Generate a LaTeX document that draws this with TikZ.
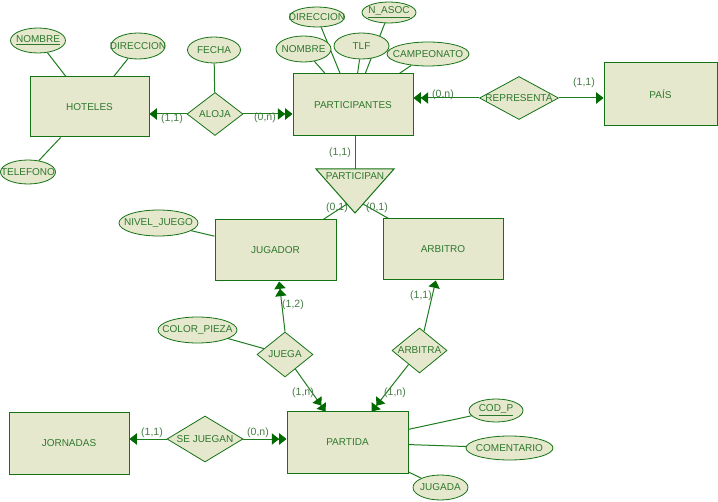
\documentclass[tikz,border=0pt]{standalone}
\usepackage{fontspec}
\setmainfont{Liberation Sans}
\usetikzlibrary{shapes.geometric,arrows.meta,calc}
\definecolor{fillc}{RGB}{230,232,206}
\definecolor{borderc}{RGB}{20,115,20}
\definecolor{linec}{RGB}{30,125,30}
\definecolor{arrowc}{RGB}{0,105,0}
\definecolor{textc}{RGB}{45,120,45}
\definecolor{cardc}{RGB}{70,125,70}
\pgfdeclarelayer{back}
\pgfdeclarelayer{bg}
\pgfsetlayers{back,bg,main}
\newcommand{\mb}[1]{\makebox[0pt]{#1}}
\tikzset{
  sz/.style 2 args={minimum width=#1*0.75pt, minimum height=#2*0.75pt},
  ent/.style={draw=borderc, fill=fillc, line width=0.75pt, text=textc, inner sep=0pt, rectangle},
  rel/.style={draw=borderc, fill=fillc, line width=0.6pt, diamond, inner sep=0pt, text=textc},
  att/.style={draw=borderc, fill=fillc, ellipse, inner sep=0pt, text=textc, line width=0.6pt},
  card/.style={text=cardc, inner sep=0pt, font=\fontsize{7.9}{9}\selectfont},
  con/.style={draw=linec, line width=0.75pt},
  one/.style={con, -{Triangle[length=5.5pt,width=8.5pt,color=arrowc]}},
  two/.style={con, -{Triangle[length=5.5pt,width=8.5pt,color=arrowc]Triangle[length=5.5pt,width=8.5pt,color=arrowc]}}
}
\begin{document}
\begin{tikzpicture}[x=0.75pt,y=-0.75pt,font=\fontsize{7.5}{8}\selectfont]
\begin{pgfonlayer}{back}
\fill[white] (0,0) rectangle (718,502);
\end{pgfonlayer}
\useasboundingbox (0,0) rectangle (718,502);

% entities
\node[ent,sz={119}{60}] (hoteles) at (89.5,107) {HOTELES};
\node[ent,sz={120}{62}] (part) at (353,105) {PARTICIPANTES};
\node[ent,sz={113}{63}] (pais) at (660.5,94.5) {PAÍS};
\node[ent,sz={121}{61}] (jugador) at (275.5,250.5) {JUGADOR};
\node[ent,sz={120}{61}] (arbitro) at (443,249.5) {ARBITRO};
\node[ent,sz={121}{61}] (partida) at (347.5,442.5) {PARTIDA};
\node[ent,sz={120}{61}] (jornadas) at (69,443.5) {JORNADAS};

% relationships
\node[rel,sz={56}{43}] (aloja) at (215,114) {\mb{ALOJA}};
\node[rel,sz={79}{43}] (rep) at (519,98) {\mb{REPRESENTA}};
\node[rel,sz={56}{45}] (juega) at (285,354.5) {\mb{JUEGA}};
\node[rel,sz={55}{45}] (arbitra) at (419.5,350.5) {\mb{ARBITRA}};
\node[rel,sz={76}{46}] (sejuegan) at (205,439) {\mb{SE JUEGAN}};

% ISA triangle
\draw[ent] (316,169) -- (394,169) -- (355,213) -- cycle;
\node[text=textc,inner sep=0pt] (tri) at (355,176) {PARTICIPAN};
\coordinate (tritop) at (355,169);
\coordinate (trileft) at (347,204);
\coordinate (triright) at (363,204);

% attributes
\node[att,sz={55}{25}] (hnombre) at (38,40.5) {\mb{\underline{NOMBRE}}};
\node[att,sz={54}{26}] (hdir) at (138,46) {\mb{DIRECCION}};
\node[att,sz={55}{24}] (htel) at (28,172) {\mb{TELEFONO}};
\node[att,sz={53}{26}] (fecha) at (214,50) {\mb{FECHA}};
\node[att,sz={55}{20}] (pdir) at (317,17) {\mb{DIRECCION}};
\node[att,sz={54}{21}] (pnasoc) at (389,12.5) {\mb{\underline{N\_ASOC}}};
\node[att,sz={55}{26}] (pnombre) at (303.5,49) {\mb{NOMBRE}};
\node[att,sz={55}{26}] (ptlf) at (361.5,46) {\mb{TLF}};
\node[att,sz={82}{24}] (pcamp) at (428,54) {\mb{CAMPEONATO}};
\node[att,sz={79}{26}] (nivel) at (158.5,223) {\mb{NIVEL\_JUEGO}};
\node[att,sz={79}{26}] (color) at (197.5,330) {\mb{COLOR\_PIEZA}};
\node[att,sz={54}{23}] (codp) at (496,410.5) {\mb{\underline{COD\_P}}};
\node[att,sz={87}{24}] (coment) at (509.5,448) {\mb{COMENTARIO}};
\node[att,sz={55}{25}] (jugada) at (440.5,487.5) {\mb{JUGADA}};

\begin{pgfonlayer}{bg}
% attribute links
\draw[con] (hnombre) -- (hoteles);
\draw[con] (hdir) -- (hoteles);
\draw[con] (htel) -- (hoteles);
\draw[con] (fecha) -- (aloja);
\draw[con] (pdir) -- (part);
\draw[con] (pnasoc) -- (part);
\draw[con] (pnombre) -- (part);
\draw[con] (ptlf) -- (part);
\draw[con] (pcamp) -- (part);
\draw[con] (nivel) -- (jugador);
\draw[con] (color) -- (juega);
\draw[con] (codp) -- (partida);
\draw[con] (coment) -- (partida);
\draw[con] (jugada) -- (partida);
% relationship links
\draw[one] (aloja.west) -- (aloja.west -| hoteles.east);
\draw[two] (aloja.east) -- (aloja.east -| part.west);
\draw[two] (rep.west) -- (rep.west -| part.east);
\draw[one] (rep.east) -- (rep.east -| pais.west);
\draw[con] (tritop |- part.south) -- (tritop);
\draw[con] (trileft) -- (jugador);
\draw[con] (triright) -- (arbitro);
\draw[two] (juega.north) -- (jugador);
\draw[two] (juega) -- (partida);
\draw[one] (arbitra) -- (arbitro);
\draw[two] (arbitra) -- (partida);
\draw[one] (sejuegan.west) -- (sejuegan.west -| jornadas.east);
\draw[two] (sejuegan.east) -- (sejuegan.east -| partida.west);
\end{pgfonlayer}

% cardinalities
\node[card] (c1) at (172,119) {(1,1)};
\node[card] (c2) at (265,118) {(0,n)};
\node[card] (c3) at (443,95) {(0,n)};
\node[card] (c4) at (584,83) {(1,1)};
\node[card] (c5) at (340,153) {(1,1)};
\node[card] (c6) at (337,208) {(0,1)};
\node[card] (c7) at (377,208) {(0,1)};
\node[card] (c8) at (293,305) {(1,2)};
\node[card] (c9) at (421,296) {(1,1)};
\node[card] (c10) at (303,393) {(1,n)};
\node[card] (c11) at (395,393) {(1,n)};
\node[card] (c12) at (152,433) {(1,1)};
\node[card] (c13) at (258,433) {(0,n)};
\end{tikzpicture}
\end{document}
